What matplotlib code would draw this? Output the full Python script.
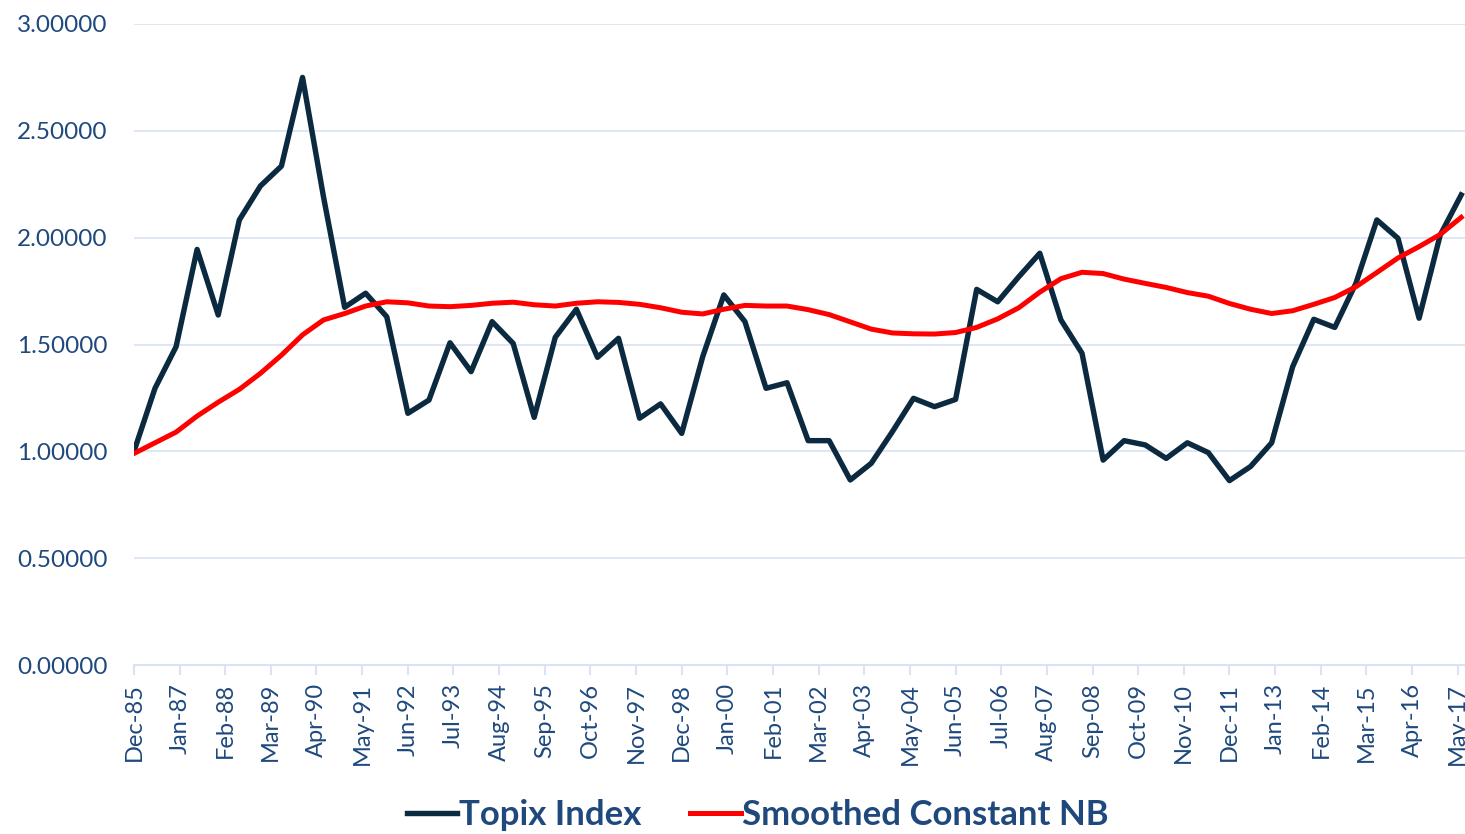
import pandas as pd
import matplotlib
matplotlib.use("Agg")
import matplotlib.pyplot as plt
import matplotlib.dates as mdates

# semiannual observations, Dec-85 .. Jun-17
dates = pd.date_range("1985-12-01", periods=64, freq="6MS")

topix = [1.00, 1.295, 1.49, 1.945, 1.638, 2.083, 2.242, 2.335, 2.75, 2.19,
         1.674, 1.74, 1.63, 1.178, 1.24, 1.508, 1.373, 1.607, 1.505, 1.159,
         1.534, 1.665, 1.44, 1.529, 1.155, 1.222, 1.084, 1.443, 1.732, 1.607,
         1.295, 1.321, 1.05, 1.05, 0.866, 0.944, 1.092, 1.248, 1.209, 1.243,
         1.758, 1.70, 1.817, 1.927, 1.615, 1.459, 0.959, 1.05, 1.03, 0.967,
         1.04, 0.994, 0.863, 0.929, 1.04, 1.396, 1.618, 1.58, 1.786, 2.083,
         1.997, 1.623, 2.012, 2.20]

smoothed = [0.99, 1.04, 1.09, 1.165, 1.23, 1.29, 1.365, 1.45, 1.545, 1.615,
            1.645, 1.68, 1.70, 1.695, 1.68, 1.677, 1.683, 1.693, 1.698, 1.686,
            1.68, 1.693, 1.70, 1.697, 1.688, 1.672, 1.651, 1.643, 1.665, 1.683,
            1.68, 1.68, 1.663, 1.64, 1.606, 1.572, 1.554, 1.55, 1.549, 1.556,
            1.58, 1.62, 1.672, 1.745, 1.808, 1.838, 1.832, 1.806, 1.786, 1.767,
            1.743, 1.726, 1.692, 1.665, 1.645, 1.658, 1.688, 1.72, 1.77, 1.837,
            1.905, 1.958, 2.015, 2.095]

# category labels every 13 months
tick_dates = pd.date_range("1985-12-01", "2017-05-01", freq="13MS")
y_ticks = [0.0, 0.5, 1.0, 1.5, 2.0, 2.5, 3.0]

text_col = "#1F497D"
grid_col = "#D9E3F3"

plt.rcParams["font.family"] = ["Lato", "DejaVu Sans"]

fig = plt.figure(figsize=(14.65, 8.34), dpi=100)
ax = fig.add_axes([134 / 1465, 1 - 665 / 834, 1 - 134 / 1465, (665 - 24) / 834])

ax.plot(dates, topix, color="#0B2A40", lw=3.9, solid_joinstyle="round",
        label="Topix Index", zorder=3)
ax.plot(dates, smoothed, color="#FF0000", lw=3.6, solid_joinstyle="round",
        label="Smoothed Constant NB", zorder=4)

ax.set_ylim(0, 3)
ax.set_xlim(pd.Timestamp("1985-12-01"), pd.Timestamp("2017-07-04"))
ax.set_yticks(y_ticks)
ax.set_yticklabels([f"{v:.5f}" for v in y_ticks])
ax.set_xticks(tick_dates)
ax.xaxis.set_major_formatter(mdates.DateFormatter("%b-%y"))

ax.grid(axis="y", color=grid_col, lw=1.2)
ax.set_axisbelow(True)
for s in ["top", "right", "left"]:
    ax.spines[s].set_visible(False)
ax.spines["bottom"].set_color(grid_col)
ax.spines["bottom"].set_linewidth(1.5)

ax.tick_params(axis="y", length=0, pad=19, labelsize=17.5, labelcolor=text_col)
ax.tick_params(axis="x", length=7, width=1.5, color=grid_col, pad=6,
               labelsize=17, labelcolor=text_col, labelrotation=90)

fig.legend(loc="center", bbox_to_anchor=(758 / 1465, 1 - 815 / 834), ncol=2,
           frameon=False, handlelength=1.45, handletextpad=0.05, columnspacing=1.4,
           prop={"weight": "bold", "size": 25}, labelcolor=text_col)

fig.savefig("out.png", dpi=100)
